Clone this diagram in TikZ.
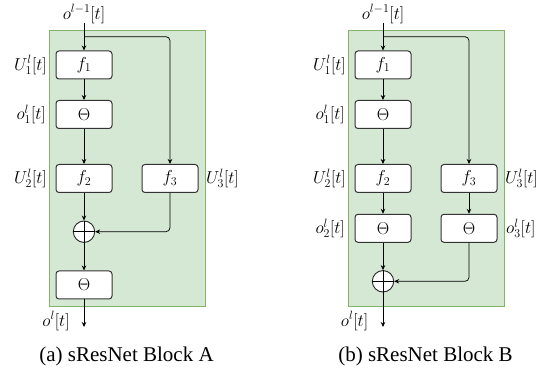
\documentclass[tikz,border=0pt]{standalone}
\usepackage{fontspec}
\newfontfamily\capfont{Liberation Serif}
\usetikzlibrary{arrows.meta}
\definecolor{panelfill}{HTML}{D5E8D4}
\definecolor{panelline}{HTML}{82B366}
\tikzset{
  blk/.style={draw=black!80, rounded corners=3pt, fill=white, minimum width=56pt,
    minimum height=28pt, inner sep=0pt, line width=1pt, font=\fontsize{16.5}{19}\selectfont},
  panel/.style={draw=panelline, fill=panelfill, line width=0.8pt},
  lbl/.style={inner sep=0pt, font=\fontsize{16.5}{19}\selectfont},
  sumnode/.style={draw=black!85, circle, minimum size=21.4pt, inner sep=0pt, fill=white, line width=0.9pt},
  flow/.style={-{Stealth[length=5pt,width=4.5pt]}, line width=0.75pt},
  capt/.style={inner sep=0pt, font=\capfont\fontsize{21}{24}\selectfont}
}
\begin{document}
\begin{tikzpicture}[x=1pt, y=-1pt]
\useasboundingbox (0,0) rectangle (555,374);

% ---------- Block A ----------
\draw[panel] (49,30) rectangle (205,306);
\node[blk] (f1a) at (84,65) {$f_1$};
\node[blk] (th1a) at (84,114.5) {$\Theta$};
\node[blk] (f2a) at (84,178.5) {$f_2$};
\node[blk] (f3a) at (170,178.5) {$f_3$};
\node[sumnode] (plusa) at (84,231.7) {};
\draw[line width=0.9pt] (plusa.north) -- (plusa.south) (plusa.west) -- (plusa.east);
\node[blk] (th4a) at (84,285) {$\Theta$};
\coordinate (ina) at (84,22.7);
\coordinate (splita) at (84,36.7);
\coordinate (outa) at (84,327);

\draw[flow] (ina) -- (f1a.north);
\draw[flow, rounded corners=4pt] (splita) -| (f3a.north);
\draw[flow] (f1a) -- (th1a);
\draw[flow] (th1a) -- (f2a);
\draw[flow] (f2a) -- (plusa.north);
\draw[flow, rounded corners=4pt] (f3a.south) |- (plusa.east);
\draw[flow] (plusa.south) -- (th4a.north);
\draw[flow] (th4a.south) -- (outa);

\node[lbl] (ina-l) at (84,14) {$o^{l-1}[t]$};
\node[lbl, anchor=east] (f1a-l) at (47,65) {$U_1^l[t]$};
\node[lbl, anchor=east] (th1a-l) at (46,114.5) {$o_1^l[t]$};
\node[lbl, anchor=east] (f2a-l) at (47,178.5) {$U_2^l[t]$};
\node[lbl, anchor=west] (f3a-l) at (206,178.5) {$U_3^l[t]$};
\node[lbl] (outa-l) at (56,321) {$o^l[t]$};
\node[capt] (capa) at (126.5,356) {(a) sResNet Block A};

% ---------- Block B ----------
\draw[panel] (348,30) rectangle (504,306);
\node[blk] (f1b) at (383,65) {$f_1$};
\node[blk] (th1b) at (383,114.5) {$\Theta$};
\node[blk] (f2b) at (383,178.5) {$f_2$};
\node[blk] (f3b) at (469,178.5) {$f_3$};
\node[blk] (th2b) at (383,228.3) {$\Theta$};
\node[blk] (th3b) at (469,228.3) {$\Theta$};
\node[sumnode] (plusb) at (383,281.3) {};
\draw[line width=0.9pt] (plusb.north) -- (plusb.south) (plusb.west) -- (plusb.east);
\coordinate (inb) at (383,22.7);
\coordinate (splitb) at (383,36.7);
\coordinate (outb) at (383,327);

\draw[flow] (inb) -- (f1b.north);
\draw[flow, rounded corners=4pt] (splitb) -| (f3b.north);
\draw[flow] (f1b) -- (th1b);
\draw[flow] (th1b) -- (f2b);
\draw[flow] (f2b) -- (th2b);
\draw[flow] (f3b) -- (th3b);
\draw[flow] (th2b.south) -- (plusb.north);
\draw[flow, rounded corners=4pt] (th3b.south) |- (plusb.east);
\draw[flow] (plusb.south) -- (outb);

\node[lbl] (inb-l) at (383,14) {$o^{l-1}[t]$};
\node[lbl, anchor=east] (f1b-l) at (346,65) {$U_1^l[t]$};
\node[lbl, anchor=east] (th1b-l) at (345,114.5) {$o_1^l[t]$};
\node[lbl, anchor=east] (f2b-l) at (346,178.5) {$U_2^l[t]$};
\node[lbl, anchor=west] (f3b-l) at (505,178.5) {$U_3^l[t]$};
\node[lbl, anchor=east] (th2b-l) at (345,228.3) {$o_2^l[t]$};
\node[lbl, anchor=west] (th3b-l) at (506,228.3) {$o_3^l[t]$};
\node[lbl] (outb-l) at (354.5,321) {$o^l[t]$};
\node[capt] (capb) at (425.5,356) {(b) sResNet Block B};
\end{tikzpicture}
\end{document}
